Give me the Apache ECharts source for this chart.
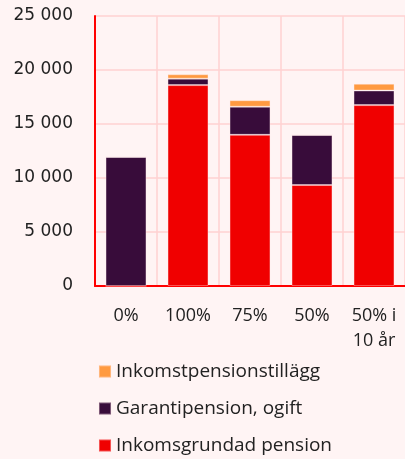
<!DOCTYPE html>
<html>
<head>
<meta charset="utf-8">
<script src="https://cdn.jsdelivr.net/npm/echarts@6/dist/echarts.min.js"></script>
<style>
  html, body { margin: 0; padding: 0; background: #fff4f4; }
  #chart { width: 405px; height: 459px; }
</style>
</head>
<body>
<div id="chart"></div>
<script>
const categories = ['0%', '100%', '75%', '50%', '50% i\n10 år'];
const inkomstgrundad = [0, 18600, 14000, 9350, 16750];
const garantipension = [11950, 600, 2600, 4630, 1350];
const tillagg = [0, 400, 600, 0, 620];
const yTicks = [0, 5000, 10000, 15000, 20000, 25000];

const chart = echarts.init(document.getElementById('chart'));

const barBorder = { borderColor: 'rgba(255,235,235,0.35)', borderWidth: 1 };

const option = {
  backgroundColor: '#fff4f4',
  animation: false,
  grid: {
    left: 95,
    right: 0,
    top: 16,
    bottom: 173
  },
  legend: {
    orient: 'vertical',
    left: 98,
    top: 362,
    height: 97,
    padding: 0,
    itemWidth: 12,
    itemHeight: 12,
    itemGap: 18,
    icon: 'rect',
    textStyle: { fontFamily: 'Open Sans', fontSize: 19, color: '#222' },
    data: ['Inkomstpensionstillägg', 'Garantipension, ogift', 'Inkomsgrundad pension']
  },
  xAxis: {
    type: 'category',
    data: categories,
    axisLine: { lineStyle: { color: '#ff0000', width: 2 } },
    axisTick: { show: false },
    splitLine: { show: true, lineStyle: { color: '#ffd2d2', width: 1.5 } },
    axisLabel: {
      fontFamily: 'Open Sans',
      fontSize: 18,
      color: '#222',
      margin: 17,
      lineHeight: 25
    }
  },
  yAxis: {
    type: 'value',
    min: yTicks[0],
    max: yTicks[yTicks.length - 1],
    interval: 5000,
    axisLine: { show: true, lineStyle: { color: '#ff0000', width: 2 } },
    axisTick: { show: false },
    splitLine: { lineStyle: { color: '#ffd2d2', width: 1.5 } },
    axisLabel: {
      fontFamily: 'DejaVu Sans',
      fontSize: 17,
      color: '#222',
      margin: 22,
      formatter: v => String(v).replace(/\B(?=(\d{3})+(?!\d))/g, ' ')
    }
  },
  series: [
    {
      name: 'Inkomsgrundad pension',
      type: 'bar',
      stack: 'total',
      barWidth: '66%',
      itemStyle: Object.assign({ color: '#f00000' }, barBorder),
      data: inkomstgrundad
    },
    {
      name: 'Garantipension, ogift',
      type: 'bar',
      stack: 'total',
      itemStyle: Object.assign({ color: '#380c3a' }, barBorder),
      data: garantipension
    },
    {
      name: 'Inkomstpensionstillägg',
      type: 'bar',
      stack: 'total',
      itemStyle: Object.assign({ color: '#ff9a40' }, barBorder),
      data: tillagg
    }
  ]
};

chart.setOption(option);
</script>
</body>
</html>
